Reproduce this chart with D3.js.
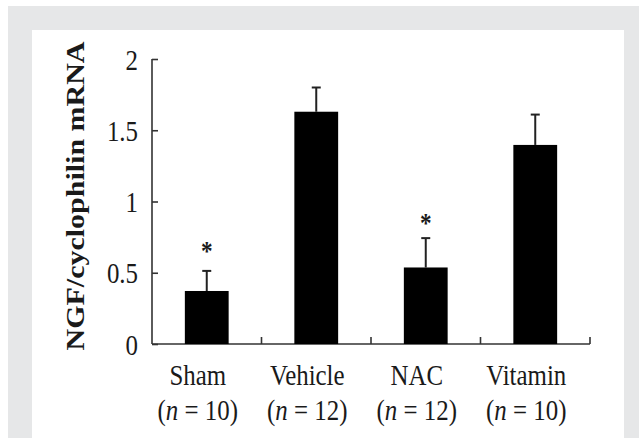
<!DOCTYPE html>
<html lang="en">
<head>
<meta charset="UTF-8">
<title>NGF/cyclophilin mRNA</title>
<script src="https://cdn.jsdelivr.net/npm/d3@7"></script>
<style>
  body { margin: 0; background: #fff; }
  svg text { font-family: "Liberation Serif", "DejaVu Serif", serif !important; fill: #1a1a1a; }
</style>
</head>
<body>
<script>
// data
const groups = ["Sham", "Vehicle", "NAC", "Vitamin"];
const nCounts = [10, 12, 12, 10];
const means = [0.372, 1.63, 0.537, 1.397];
const errTops = [0.513, 1.80, 0.743, 1.61];
const starred = [true, false, true, false];
const starLevels = [0.69, null, 0.885, null];
const yTicks = [0, 0.5, 1, 1.5, 2];

const width = 639, height = 438;
const sx = 0.83; // the original figure is squeezed horizontally

const svg = d3.select("body").append("svg")
    .attr("width", width)
    .attr("height", height);

// gray frame + white panel
svg.append("rect").attr("x", 8).attr("y", 6).attr("width", width - 8).attr("height", height - 6).attr("fill", "#e6e7e8");
svg.append("rect").attr("x", 32).attr("y", 30).attr("width", 592).attr("height", height - 30).attr("fill", "#fff");

const x = d3.scaleBand()
    .domain(groups)
    .range([152, 590])
    .paddingInner(0.6)
    .paddingOuter(0.3);

const y = d3.scaleLinear()
    .domain([0, 2])
    .range([344, 59]);

const x0 = x.range()[0];

// y axis
const yAxis = svg.append("g")
    .attr("transform", `translate(${x0},0)`)
    .call(d3.axisLeft(y).tickValues(yTicks).tickFormat(d3.format("~g")).tickSize(-6).tickPadding(0));
yAxis.select(".domain").attr("d", `M0,${y(2)}V${y(0)}`).attr("stroke", "#333").attr("stroke-width", 1.6);
yAxis.selectAll(".tick line").attr("stroke", "#333").attr("stroke-width", 1.6);
yAxis.selectAll(".tick text")
    .attr("x", -14 / sx)
    .attr("dy", "0.34em")
    .attr("transform", `scale(${sx},1)`)
    .attr("font-size", 30);

// x axis baseline with ticks at group boundaries
svg.append("line")
    .attr("x1", x0).attr("x2", x.range()[1])
    .attr("y1", y(0)).attr("y2", y(0))
    .attr("stroke", "#333").attr("stroke-width", 1.6);
svg.selectAll(".xtick")
    .data(groups)
    .join("line")
    .attr("class", "xtick")
    .attr("x1", (d, i) => x0 + x.step() * (i + 1))
    .attr("x2", (d, i) => x0 + x.step() * (i + 1))
    .attr("y1", y(0)).attr("y2", y(0) - 7)
    .attr("stroke", "#333").attr("stroke-width", 1.6);

// error bars
const errs = svg.append("g").attr("stroke", "#222").attr("stroke-width", 2);
groups.forEach((g, i) => {
    const cx = x(g) + x.bandwidth() / 2;
    errs.append("line").attr("x1", cx).attr("x2", cx).attr("y1", y(means[i])).attr("y2", y(errTops[i]));
    errs.append("line").attr("x1", cx - 4.5).attr("x2", cx + 4.5).attr("y1", y(errTops[i])).attr("y2", y(errTops[i]));
});

// bars
svg.selectAll(".bar")
    .data(groups)
    .join("rect")
    .attr("class", "bar")
    .attr("x", d => x(d))
    .attr("width", x.bandwidth())
    .attr("y", (d, i) => y(means[i]))
    .attr("height", (d, i) => y(0) - y(means[i]))
    .attr("fill", "#000");

// significance stars
groups.forEach((g, i) => {
    if (!starred[i]) return;
    svg.append("text")
        .attr("transform", `translate(${x(g) + x.bandwidth() / 2},${y(starLevels[i]) + 14}) scale(${sx},1)`)
        .attr("text-anchor", "middle")
        .attr("font-size", 28)
        .attr("font-weight", "bold")
        .text("*");
});

// category labels
const labels = svg.selectAll(".cat")
    .data(groups)
    .join("g")
    .attr("class", "cat")
    .attr("transform", d => `translate(${x(d) + x.bandwidth() / 2 - 9},0) scale(${sx},1)`);

labels.append("text")
    .attr("y", 385)
    .attr("text-anchor", "middle")
    .attr("font-size", 30)
    .text(d => d);

const nLine = labels.append("text")
    .attr("y", 420)
    .attr("text-anchor", "middle")
    .attr("font-size", 30);
nLine.append("tspan").text("(");
nLine.append("tspan").attr("font-style", "italic").text("n");
nLine.append("tspan").text((d, i) => " = " + nCounts[i] + ")");

// y axis title
svg.append("text")
    .attr("transform", `translate(84,196) scale(${sx},1) rotate(-90)`)
    .attr("text-anchor", "middle")
    .attr("font-size", 30)
    .attr("font-weight", "bold")
    .text("NGF/cyclophilin mRNA");
</script>
</body>
</html>
